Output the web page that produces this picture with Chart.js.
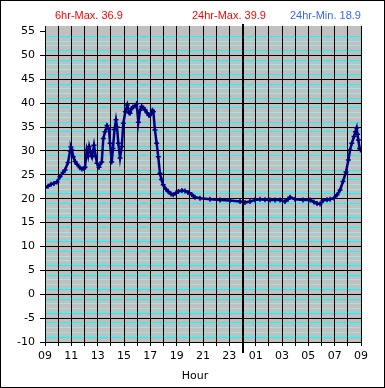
<!DOCTYPE html>
<html>
<head>
<meta charset="utf-8">
<script src="https://cdn.jsdelivr.net/npm/chart.js@4.4.0/dist/chart.umd.min.js"></script>
<style>
  html, body { margin: 0; padding: 0; background: #fff; }
  canvas { display: block; }
</style>
</head>
<body>
<canvas id="chart" width="385" height="388"></canvas>
<script>
// hours elapsed since 09:00 and the temperature read at that moment
const readingHours = [
  0.00, 0.23, 0.46, 0.68, 0.91, 1.14, 1.37, 1.52, 1.75, 1.90, 1.97, 2.05, 2.15, 2.28, 2.43, 2.66,
  2.81, 2.96, 3.04, 3.17, 3.27, 3.36, 3.49, 3.57, 3.72, 3.84, 3.95, 4.10, 4.31, 4.43, 4.56, 4.71,
  4.86, 4.94, 5.07, 5.16, 5.28, 5.39, 5.47, 5.57, 5.70, 5.83, 5.95, 6.10, 6.25, 6.38, 6.46, 6.58,
  6.68, 6.84, 6.96, 7.09, 7.22, 7.34, 7.48, 7.59, 7.75, 7.90, 8.05, 8.16, 8.23, 8.35, 8.48, 8.60,
  8.73, 8.85, 8.98, 9.19, 9.36, 9.57, 9.74, 9.95, 10.12, 10.40, 10.63, 10.86, 11.14, 11.39, 11.77,
  12.53, 13.29, 14.05, 14.81, 15.19, 15.57, 15.95, 16.33, 16.71, 17.09, 17.47, 17.85, 18.23, 18.46,
  18.61, 18.99, 19.59, 20.13, 20.43, 20.66, 20.89, 21.11, 21.42, 21.65, 21.95, 22.18, 22.41, 22.63,
  22.86, 23.04, 23.17, 23.30, 23.47, 23.58, 23.67, 23.73, 23.80, 23.89, 23.96
];
const readingTemps = [
  22.3, 22.6, 23.0, 23.2, 23.5, 24.6, 25.5, 26.0, 27.6, 30.0, 30.8, 30.2, 28.8, 27.8, 27.2, 26.5,
  26.2, 26.3, 26.6, 30.2, 29.0, 30.9, 29.5, 28.8, 31.2, 29.0, 27.4, 26.6, 27.7, 32.6, 34.0, 35.3,
  34.5, 31.6, 27.7, 30.5, 34.5, 36.5, 35.0, 31.6, 28.5, 30.9, 35.8, 38.2, 39.6, 38.0, 37.9, 38.9,
  39.2, 39.4, 39.9, 36.0, 38.5, 39.3, 39.0, 38.6, 38.0, 37.4, 37.8, 38.5, 38.2, 34.4, 31.6, 28.8,
  25.3, 24.0, 22.9, 22.0, 21.5, 21.0, 20.8, 21.2, 21.5, 21.7, 21.6, 21.3, 20.9, 20.3, 20.1,
  19.9, 19.7, 19.6, 19.4, 19.2, 19.4, 19.7, 19.9, 19.8, 19.7, 19.7, 19.7, 19.4, 19.9,
  20.3, 19.9, 19.7, 19.7, 19.3, 19.0, 18.9, 19.6, 19.8, 19.9, 20.1, 20.8, 21.8, 23.6,
  25.6, 28.1, 30.2, 31.6, 33.0, 34.0, 34.8, 33.5, 32.3, 30.5, 30.2
];
const hourLabels = [
  '09', '10', '11', '12', '13', '14', '15', '16', '17', '18', '19', '20', '21',
  '22', '23', '00', '01', '02', '03', '04', '05', '06', '07', '08', '09'
];
const headerTexts = ['6hr-Max. 36.9', '24hr-Max. 39.9', '24hr-Min. 18.9'];
const headerColors = ['#ff0000', '#ff0000', '#3366ff'];
const midnightHour = 15;
const axisTitle = 'Hour';

const axisFont = { family: 'DejaVu Sans', size: 11 };

// grey plot background
const plotBackground = {
  id: 'plotBackground',
  beforeDraw(chart) {
    const a = chart.chartArea;
    const ctx = chart.ctx;
    ctx.save();
    ctx.fillStyle = '#c0c0c0';
    ctx.fillRect(a.left, a.top, a.right - a.left, a.bottom - a.top);
    ctx.restore();
  }
};

// midnight marker, header texts, axis title and outer frame
const decorations = {
  id: 'decorations',
  afterDatasetsDraw(chart) {
    const ctx = chart.ctx;
    const x = Math.round(chart.scales.x.getPixelForValue(midnightHour));
    ctx.save();
    ctx.strokeStyle = '#000';
    ctx.lineWidth = 2;
    ctx.beginPath();
    ctx.moveTo(x, chart.chartArea.top - 2);
    ctx.lineTo(x, chart.chartArea.bottom + 11);
    ctx.stroke();
    ctx.restore();
  },
  afterDraw(chart) {
    const ctx = chart.ctx;
    ctx.save();
    ctx.font = '11px "Liberation Sans", Arial, sans-serif';
    ctx.textBaseline = 'alphabetic';
    ctx.textAlign = 'left';
    const lefts = [55, 192, 290];
    headerTexts.forEach((t, i) => {
      ctx.fillStyle = headerColors[i];
      ctx.fillText(t, lefts[i], 19);
    });
    ctx.fillStyle = '#000';
    ctx.font = '11px "DejaVu Sans"';
    ctx.textAlign = 'center';
    ctx.fillText(axisTitle, 195, 379);
    ctx.strokeStyle = '#000';
    ctx.lineWidth = 1;
    ctx.strokeRect(0.5, 0.5, chart.width - 1, chart.height - 1);
    ctx.restore();
  }
};

new Chart(document.getElementById('chart'), {
  type: 'line',
  data: {
    datasets: [{
      data: readingHours.map((h, i) => ({ x: h, y: readingTemps[i] })),
      borderColor: '#000080',
      backgroundColor: '#000080',
      borderWidth: 2.5,
      pointStyle: 'cross',
      pointRadius: 2.5,
      pointBorderWidth: 1.5,
      pointBorderColor: '#000080',
      tension: 0,
      fill: false
    }]
  },
  options: {
    responsive: false,
    devicePixelRatio: 1,
    animation: false,
    layout: { padding: { top: 26, right: 24, left: 0, bottom: 0 } },
    plugins: {
      legend: { display: false },
      tooltip: { enabled: false },
      title: { display: false }
    },
    scales: {
      x: {
        type: 'linear',
        min: 0,
        max: 24,
        afterFit: (s) => { s.height = 46; },
        border: { display: true, color: '#000', width: 1 },
        grid: { color: '#000', lineWidth: 1, tickLength: 4, tickColor: '#000' },
        ticks: {
          stepSize: 1,
          autoSkip: false,
          maxRotation: 0,
          padding: 4,
          color: '#000',
          font: axisFont,
          callback: (v) => {
            const i = Math.round(v);
            return i % 2 === 0 ? hourLabels[i] : '';
          }
        }
      },
      y: {
        min: -10,
        max: 56.15,
        afterFit: (s) => { s.width = 45; },
        border: { display: true, color: '#000', width: 1 },
        grid: {
          z: -2,
          lineWidth: 1,
          tickLength: 5,
          color: (c) => {
            const v = c.tick.value;
            if (!Number.isInteger(v) || v === 55) return 'rgba(0,0,0,0)';
            const m = ((v % 5) + 5) % 5;
            if (m === 0) return '#000';
            return (m === 1 || m === 4) ? '#00ffff' : '#9ee6e6';
          },
          tickColor: (c) => {
            const v = c.tick.value;
            return Number.isInteger(v) && v % 5 === 0 ? '#000' : 'rgba(0,0,0,0)';
          }
        },
        ticks: {
          stepSize: 1,
          autoSkip: false,
          padding: 5,
          color: '#000',
          font: axisFont,
          callback: (v) => (Number.isInteger(v) && v % 5 === 0 ? String(v) : '')
        }
      }
    }
  },
  plugins: [plotBackground, decorations]
});
</script>
</body>
</html>
